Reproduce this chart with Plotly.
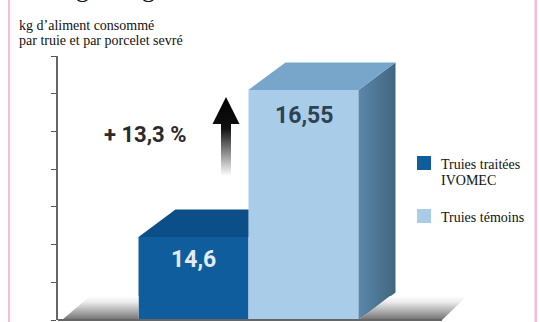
import plotly.graph_objects as go

# Feed consumed per sow and per weaned piglet
series_names = ["Truies traitées<br>IVOMEC", "Truies témoins"]
series_values = [14.6, 16.55]
value_labels = ["14,6", "16,55"]
gain_label = "+ 13,3 %"
axis_ticks = [13.5, 14, 14.5, 15, 15.5, 16, 16.5, 17]
unit_lines = ["kg d’aliment consommé", "par truie et par porcelet sevré"]

# Page geometry (pixels)
W, H = 540, 322
PLOT_L, PLOT_T, PLOT_B = 58, 56, 320
BAR_PX = 110
ORIGIN_PX = 193.5
Y_MIN, Y_MAX = axis_ticks[0], axis_ticks[-1]
PX_PER_UNIT = (PLOT_B - PLOT_T) / (Y_MAX - Y_MIN)


def dx(px):
    return (px - ORIGIN_PX) / BAR_PX


def dy(py):
    return Y_MIN + (PLOT_B - py) / PX_PER_UNIT


def px_paper(px):
    return (px - PLOT_L) / (W - PLOT_L)


def py_paper(py):
    return (PLOT_B - py) / (PLOT_B - PLOT_T)


DEPTH_X = 37 / BAR_PX
DEPTH_Y = 27.5 / PX_PER_UNIT

FRONT = ["#0f5d9c", "#a9cce9"]
TOP = ["#0c4f88", "#78a5ca"]
SERIF = "Liberation Serif"
NUMERAL = "Roboto"


def polygon(xs, ys, color=None, gradient=None):
    kw = dict(fillgradient=gradient) if gradient else dict(fillcolor=color)
    return go.Scatter(
        x=xs + xs[:1], y=ys + ys[:1], mode="lines", fill="toself",
        line=dict(width=0), hoverinfo="skip", showlegend=False, **kw,
    )


floor_fade = dict(
    type="vertical",
    colorscale=[[0, "#707070"], [0.35, "#ababab"], [0.75, "#ececec"], [1, "#ffffff"]],
)

fig = go.Figure()

# Front faces
for i, name in enumerate(series_names):
    fig.add_trace(go.Bar(
        x=[i], y=[series_values[i]], width=1, name=name,
        marker=dict(color=FRONT[i], line=dict(width=0)), showlegend=False,
    ))

# Floor shadow, left of the bars
fig.add_trace(polygon(
    [dx(62), dx(90), -0.5, -0.5],
    [dy(320), dy(296), dy(296), dy(320)], gradient=floor_fade,
))

# Top of the short bar stops where the taller bar begins
v0, v1 = series_values
fig.add_trace(polygon(
    [-0.5, -0.5 + DEPTH_X, 0.5, 0.5],
    [v0, v0 + DEPTH_Y, v0 + DEPTH_Y, v0], TOP[0],
))

# Side and top of the tall bar
fig.add_trace(polygon(
    [1.5, 1.5 + DEPTH_X, 1.5 + DEPTH_X, 1.5],
    [Y_MIN, Y_MIN + DEPTH_Y, v1 + DEPTH_Y, v1],
    gradient=dict(type="horizontal",
                  colorscale=[[0, "#5b87aa"], [1, "#41667f"]]),
))
fig.add_trace(polygon(
    [0.5, 0.5 + DEPTH_X, 1.5 + DEPTH_X, 1.5],
    [v1, v1 + DEPTH_Y, v1 + DEPTH_Y, v1], TOP[1],
))

# Floor shadow, right of the bars
fig.add_trace(polygon(
    [1.5, 1.5 + DEPTH_X * 0.85, dx(467), dx(442)],
    [Y_MIN, dy(296), dy(296), dy(320)], gradient=floor_fade,
))

# Upward arrow fading out towards its tail
ax, hw, sw = 226, 13.5, 5
fig.add_trace(polygon(
    [dx(ax), dx(ax + hw), dx(ax + sw), dx(ax + sw), dx(ax - sw), dx(ax - sw), dx(ax - hw)],
    [dy(97), dy(124), dy(124), dy(176), dy(176), dy(124), dy(124)],
    gradient=dict(type="vertical",
                  colorscale=[[0, "#ffffff"], [0.3, "#8a8a8a"], [0.6, "#111111"], [1, "#000000"]]),
))

annotations = [
    dict(x=0, y=dy(259), text=value_labels[0], font=dict(family=NUMERAL, size=23, color="#e3ebf2")),
    dict(x=1, y=dy(115), text=value_labels[1], font=dict(family=NUMERAL, size=23, color="#2f4252")),
    dict(x=dx(145), y=dy(134), text=gain_label, font=dict(family=NUMERAL, size=22, color="#2b2b2b")),
]
for a in annotations:
    a["font"]["weight"] = "bold"
    a.update(xref="x", yref="y", showarrow=False, xanchor="center", yanchor="middle")


def note(px, py, text, size=14, xanchor="left", yanchor="middle"):
    annotations.append(dict(
        x=px_paper(px), y=py_paper(py), xref="paper", yref="paper", text=text,
        showarrow=False, xanchor=xanchor, yanchor=yanchor, align="left",
        font=dict(family=SERIF, size=size, color="#111111"), borderpad=0, borderwidth=0,
    ))


note(19, 25, unit_lines[0])
note(19, 41, unit_lines[1])
first, second = series_names[0].split("<br>")
note(441, 164, first)
note(441, 180, second)
note(441, 217, series_names[1])
# Heading line running off the top of the page
note(82, 3, "g", size=26, xanchor="center", yanchor="bottom")
note(148, 3, "g", size=26, xanchor="center", yanchor="bottom")


def page_rect(x0, y0, x1, y1, color):
    return dict(type="rect", xref="paper", yref="paper", x0=px_paper(x0), x1=px_paper(x1),
                y0=py_paper(y0), y1=py_paper(y1), fillcolor=color, line=dict(width=0))


shapes = [
    # Page rules
    page_rect(8, 0, 10, H, "#f6bcd6"),
    page_rect(534.5, 0, 537, H, "#f6bcd6"),
    # Legend swatches
    page_rect(417, 156, 431, 170, FRONT[0]),
    page_rect(417, 209, 431, 223, FRONT[1]),
    # Baseline
    dict(type="line", xref="paper", yref="paper", x0=0, x1=px_paper(442), y0=0, y1=0,
         line=dict(color="#666666", width=2)),
]

fig.update_layout(
    width=W, height=H,
    margin=dict(l=PLOT_L, r=0, t=PLOT_T, b=H - PLOT_B, pad=0),
    paper_bgcolor="white", plot_bgcolor="rgba(0,0,0,0)",
    barmode="overlay", showlegend=False,
    annotations=annotations, shapes=shapes,
    xaxis=dict(range=[dx(PLOT_L), dx(W)], visible=False, fixedrange=True),
    yaxis=dict(
        range=[Y_MIN, Y_MAX], tickmode="array", tickvals=axis_ticks, ticktext=[""] * len(axis_ticks),
        ticks="outside", ticklen=5, tickwidth=1, tickcolor="#555555",
        showline=True, linecolor="#666666", linewidth=2, showgrid=False, zeroline=False,
        fixedrange=True,
    ),
)

fig.write_html("out.html", config=dict(displayModeBar=False))
